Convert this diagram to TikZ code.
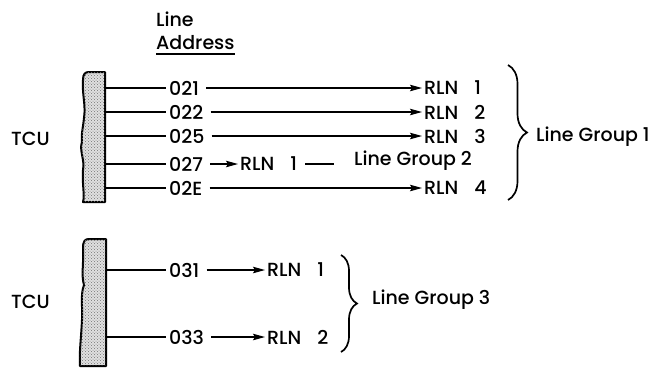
\documentclass[tikz,border=0pt]{standalone}
\usepackage{fontspec}
\setmainfont{Poppins Medium}
\usetikzlibrary{arrows.meta,decorations.pathreplacing,patterns}
\begin{document}
\begin{tikzpicture}[x=1pt,y=-1pt,
  lbl/.style={font=\fontsize{19}{22}\selectfont,inner xsep=3pt,inner ysep=1pt,anchor=west},
  rln/.style={lbl,inner xsep=2pt},
  wire/.style={line width=1.3pt},
  arr/.style={wire,-{Stealth[length=12pt,width=6.5pt,inset=2pt]}},
  barshape/.style={line width=2pt,fill=black!12,postaction={pattern=crosshatch dots,pattern color=black!55},line join=round},
  grpbrace/.style={line width=1.7pt,decorate,decoration={brace,amplitude=#1}}]
\useasboundingbox (0,0) rectangle (656,368);
% TCU bars
\draw[barshape] (105,72) -- (89,72) .. controls (85,72) and (83,74) .. (83,80)
  .. controls (82,95) and (86,105) .. (84,118) .. controls (83,128) and (81,135) .. (82,142)
  .. controls (79,150) and (85,160) .. (83,170) .. controls (82,185) and (85,195) .. (83,202)
  -- (105,202) -- cycle;
\draw[barshape] (106,239) -- (89,239) .. controls (85,239) and (83,241) .. (83,248)
  .. controls (84,262) and (81,275) .. (84,285) .. controls (80,295) and (83,310) .. (82,320)
  .. controls (81,340) and (79,355) .. (80,366) -- (106,366) -- cycle;
\coordinate (t1) at (105,88);
\coordinate (t2) at (105,112);
\coordinate (t3) at (105,136);
\coordinate (t4) at (105,164);
\coordinate (t5) at (105,188);
\coordinate (u1) at (106,270);
\coordinate (u2) at (106,337);
% headings
\node[lbl,inner xsep=0pt] (hline) at (156,19) {Line};
\node[lbl,inner xsep=0pt] (haddr) at (156,43) {Address};
\draw[line width=1.8pt] ([yshift=-3pt]haddr.south west) -- ([yshift=-3pt]haddr.south east);
\node[lbl] (tcu1) at (8,139) {TCU};
\node[lbl] (tcu2) at (8,302) {TCU};
% addresses
\node[lbl] (a1) at (166,88) {021};
\node[lbl] (a2) at (166,112) {022};
\node[lbl] (a3) at (166,136) {025};
\node[lbl] (a4) at (166,164) {027};
\node[lbl] (a5) at (166,188) {02E};
\node[lbl] (b1) at (166,270) {031};
\node[lbl] (b2) at (166,337) {033};
% RLNs
\node[rln] (r1) at (422,88) {RLN\hspace{0.85em}1};
\node[rln] (r2) at (422,112) {RLN\hspace{0.85em}2};
\node[rln] (r3) at (422,136) {RLN\hspace{0.85em}3};
\node[rln] (r4) at (238,164) {RLN\hspace{0.85em}1};
\node[rln] (r5) at (422,188) {RLN\hspace{0.85em}4};
\node[rln] (s1) at (265,270) {RLN\hspace{0.85em}1};
\node[rln] (s2) at (265,337) {RLN\hspace{0.85em}2};
\node[lbl] (g2) at (351,161) {Line Group 2};
\node[lbl] (g1) at (533,137) {Line Group 1};
\node[lbl] (g3) at (369,300) {Line Group 3};
% wires
\foreach \t/\a/\r in {t1/a1/r1,t2/a2/r2,t3/a3/r3,t4/a4/r4,t5/a5/r5,u1/b1/s1,u2/b2/s2}{
  \draw[wire] (\t |- \a.west) -- (\a.west);
  \draw[arr,shorten <=4pt] (\a.east) -- (\r.west);
}
\draw[wire,shorten <=6pt,shorten >=17pt] (r4.east) -- (r4.east -| g2.west);
% braces
\draw[grpbrace=19pt] (508,65) -- (508,200);
\draw[grpbrace=16pt] (341,255) -- (341,352);
\end{tikzpicture}
\end{document}
